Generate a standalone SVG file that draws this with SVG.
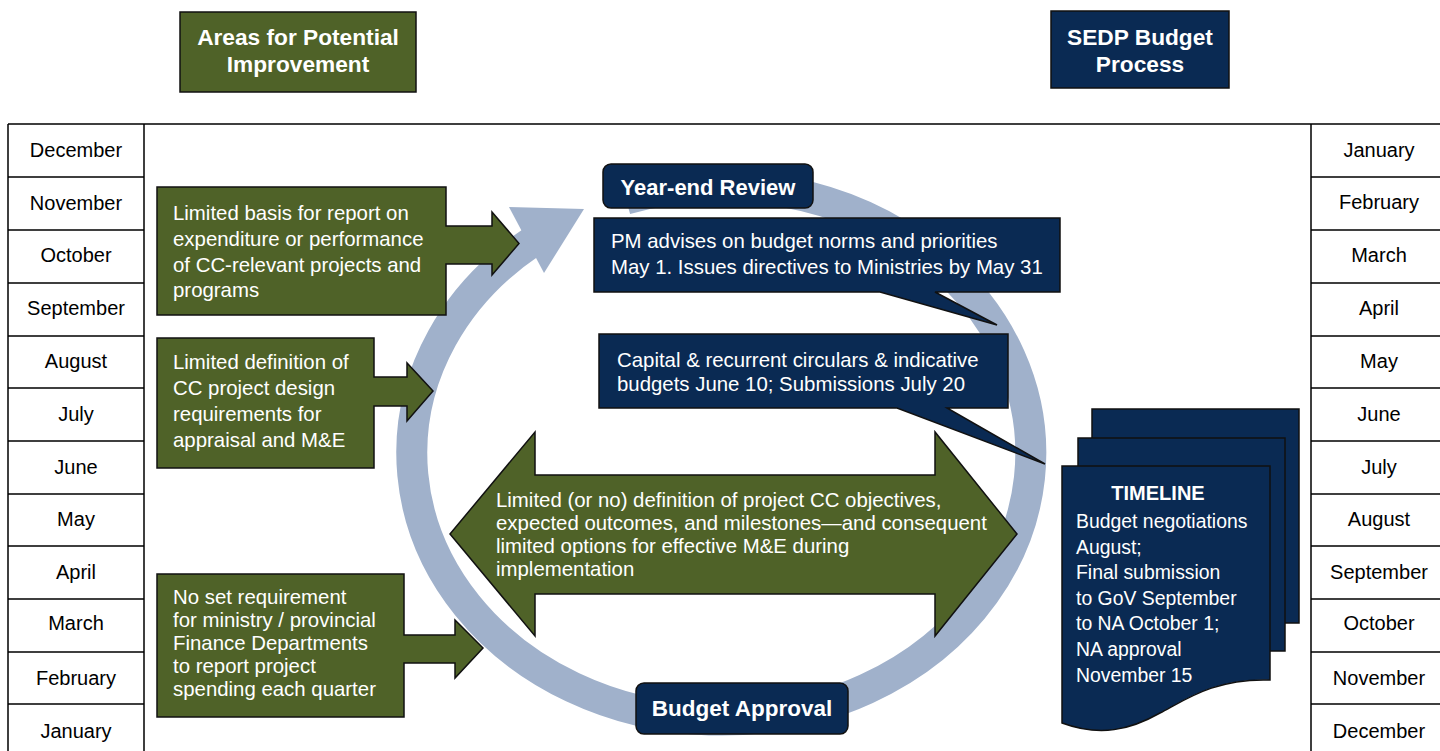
<svg xmlns="http://www.w3.org/2000/svg" width="1440" height="751" viewBox="0 0 1440 751">
<style>
.grn{fill:#4f6228;stroke:#111;stroke-width:1.5}
.nav{fill:#0a2a53;stroke:#111;stroke-width:1.5}
.wt{fill:#fff;font-family:"Liberation Sans",Arial,sans-serif;font-size:20.4px}
.tl{fill:#fff;font-family:"Liberation Sans",Arial,sans-serif;font-size:19.4px}
.wb{fill:#fff;font-family:"Liberation Sans",Arial,sans-serif;font-weight:bold}
.mo{fill:#000;font-family:"Liberation Sans",Arial,sans-serif;font-size:20px;text-anchor:middle}
.ln{stroke:#000;stroke-width:1.5;fill:none}
</style>
<rect width="1440" height="751" fill="#fff"/>

<g id="frame">
<path class="ln" d="M8,124 H1440 M8,124 V751 M144,124 V751 M1311,124 V751"/>
<path class="ln" d="M8,177H144M8,230H144M8,283H144M8,336H144M8,388H144M8,441H144M8,494H144M8,546H144M8,599H144M8,652H144M8,704H144"/>
<path class="ln" d="M1311,177H1440M1311,230H1440M1311,283H1440M1311,336H1440M1311,388H1440M1311,441H1440M1311,494H1440M1311,546H1440M1311,599H1440M1311,652H1440M1311,704H1440"/>
</g>
<g id="months-left">
<text class="mo" x="76" y="157">December</text>
<text class="mo" x="76" y="210">November</text>
<text class="mo" x="76" y="262">October</text>
<text class="mo" x="76" y="315">September</text>
<text class="mo" x="76" y="368">August</text>
<text class="mo" x="76" y="421">July</text>
<text class="mo" x="76" y="474">June</text>
<text class="mo" x="76" y="526">May</text>
<text class="mo" x="76" y="579">April</text>
<text class="mo" x="76" y="630">March</text>
<text class="mo" x="76" y="685">February</text>
<text class="mo" x="76" y="738">January</text>
</g>
<g id="months-right">
<text class="mo" x="1379" y="157">January</text>
<text class="mo" x="1379" y="209">February</text>
<text class="mo" x="1379" y="262">March</text>
<text class="mo" x="1379" y="315">April</text>
<text class="mo" x="1379" y="368">May</text>
<text class="mo" x="1379" y="421">June</text>
<text class="mo" x="1379" y="474">July</text>
<text class="mo" x="1379" y="526">August</text>
<text class="mo" x="1379" y="579">September</text>
<text class="mo" x="1379" y="630">October</text>
<text class="mo" x="1379" y="685">November</text>
<text class="mo" x="1379" y="738">December</text>
</g>

<g id="header-left">
<rect class="grn" x="180" y="12" width="236" height="80"/>
<text class="wb" font-size="22.7" text-anchor="middle" x="298" y="45">Areas for Potential</text>
<text class="wb" font-size="22.7" text-anchor="middle" x="298" y="72">Improvement</text>
</g>
<g id="header-right">
<rect class="nav" x="1051" y="11" width="178" height="77"/>
<text class="wb" font-size="22.7" text-anchor="middle" x="1140" y="45">SEDP Budget</text>
<text class="wb" font-size="22.7" text-anchor="middle" x="1140" y="72">Process</text>
</g>

<g id="connectors">
<path d="M625.9,199.1 A309.5,267 0 1 1 530.9,242.6" fill="none" stroke="#a0b1cb" stroke-width="31"/>
<polygon points="509,207 584,209 544,273" fill="#a0b1cb"/>
</g>

<g id="cycle-top">
<rect class="nav" x="603" y="164" width="210" height="44" rx="8"/>
<text class="wb" font-size="22" text-anchor="middle" x="708" y="195">Year-end Review</text>
</g>
<g id="cycle-bottom">
<rect class="nav" x="636" y="683" width="212" height="51" rx="8"/>
<text class="wb" font-size="22.5" text-anchor="middle" x="742" y="716">Budget Approval</text>
</g>

<g id="callout-1">
<path class="nav" d="M594,218 H1060 V292 H935 L997,325 L880,292 H594 Z"/>
<text class="wt" x="611" y="248">PM advises on budget norms and priorities</text>
<text class="wt" x="611" y="274">May 1. Issues directives to Ministries by May 31</text>
</g>
<g id="callout-2">
<path class="nav" d="M599,334 H1008 V408 H947 L1045,464 L897,408 H599 Z"/>
<text class="wt" x="617" y="367">Capital &amp; recurrent circulars &amp; indicative</text>
<text class="wt" x="617" y="391">budgets June 10; Submissions July 20</text>
</g>

<g id="issue-1">
<path class="grn" d="M157,187 H446 V226 H492 V212 L519,243.5 L492,275 V264 H446 V315 H157 Z"/>
<text class="wt" x="173" y="220">Limited basis for report on</text>
<text class="wt" x="173" y="246">expenditure or performance</text>
<text class="wt" x="173" y="272">of CC-relevant projects and</text>
<text class="wt" x="173" y="297">programs</text>
</g>
<g id="issue-2">
<path class="grn" d="M157,338 H374 V377 H407 V363 L433,391 L407,421 V406 H374 V468 H157 Z"/>
<text class="wt" x="173" y="369">Limited definition of</text>
<text class="wt" x="173" y="395">CC project design</text>
<text class="wt" x="173" y="421">requirements for</text>
<text class="wt" x="173" y="447">appraisal and M&amp;E</text>
</g>
<g id="issue-3">
<path class="grn" d="M157,574 H404 V635 H455 V620 L483,648 L455,678 V663 H404 V717 H157 Z"/>
<text class="wt" x="173" y="604">No set requirement</text>
<text class="wt" x="173" y="627">for ministry / provincial</text>
<text class="wt" x="173" y="650">Finance Departments</text>
<text class="wt" x="173" y="673">to report project</text>
<text class="wt" x="173" y="696">spending each quarter</text>
</g>
<g id="issue-4">
<path class="grn" d="M450,534 L535,432 V475 H935 V432 L1017,534 L935,636 V594 H535 V636 Z"/>
<text class="wt" x="496" y="507">Limited (or no) definition of project CC objectives,</text>
<text class="wt" x="496" y="530">expected outcomes, and milestones—and consequent</text>
<text class="wt" x="496" y="553">limited options for effective M&amp;E during</text>
<text class="wt" x="496" y="576">implementation</text>
</g>

<g id="timeline">
<rect class="nav" x="1092" y="409" width="207" height="214"/>
<rect class="nav" x="1078" y="438" width="207" height="213"/>
<path class="nav" d="M1062,466 H1270 V680 C1215,678 1185,700 1160,713 C1130,730 1100,737 1062,723 Z"/>
<text class="wb" font-size="20" text-anchor="middle" x="1158" y="500">TIMELINE</text>
<text class="tl" x="1076" y="528">Budget negotiations</text>
<text class="tl" x="1076" y="554">August;</text>
<text class="tl" x="1076" y="579">Final submission</text>
<text class="tl" x="1076" y="605">to GoV September</text>
<text class="tl" x="1076" y="630">to NA October 1;</text>
<text class="tl" x="1076" y="656">NA approval</text>
<text class="tl" x="1076" y="682">November 15</text>
</g>
</svg>
